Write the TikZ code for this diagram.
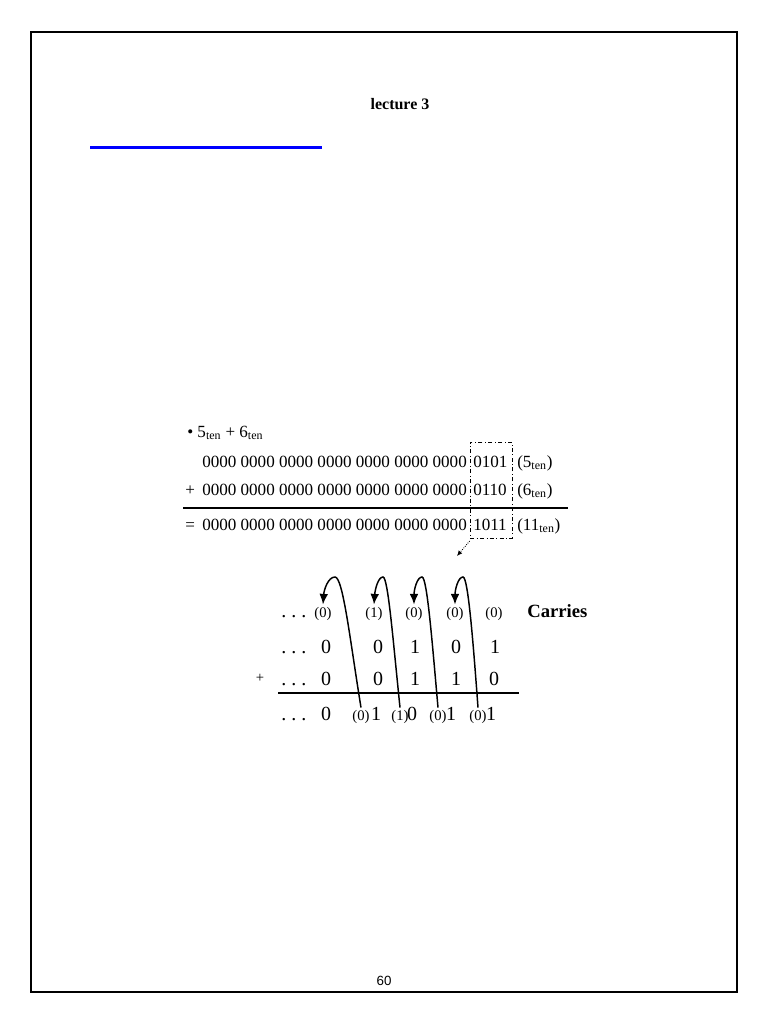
\documentclass[tikz,border=0pt]{standalone}
\usepackage{fontspec}
\setmainfont{Liberation Serif}
\newfontfamily\pagefont{Liberation Sans}
\usetikzlibrary{arrows.meta}
\tikzset{
  bits/.style={anchor=base west,inner sep=0,font=\fontsize{12.8}{15}\selectfont},
  digit/.style={anchor=base,inner sep=0,font=\fontsize{15}{18}\selectfont},
  carry/.style={anchor=base,inner sep=1.5pt,font=\fontsize{11}{13}\selectfont},
  dots/.style={anchor=base west,inner sep=0,font=\fontsize{15}{18}\selectfont},
  carryarc/.style={line width=1.1pt,-{Latex[length=8pt,width=6.5pt]}}
}
\begin{document}
\begin{tikzpicture}[x=0.75pt,y=-0.75pt]
      \useasboundingbox (0,0) rectangle (768,1024);
      \draw[line width=1.5pt] (31,32) rectangle (737,992);
      \draw
        (400,104) node[font=\bfseries\fontsize{12}{14}\selectfont] (title){lecture 3}
        (384,985) node[anchor=base,font=\pagefont\fontsize{10}{12}\selectfont] (page){60};
      \draw[blue,line width=2.25pt] (90,147) -- (322,147);
      % 5 + 6 in 32 bits
      \draw
        (187,437) node[bits] (sum){\textbullet\ 5\textsubscript{ten} + 6\textsubscript{ten}}
        (202,467) node[bits] (a){0000 0000 0000 0000 0000 0000 0000}
        (473,467) node[bits] (alow){0101}
        (185,495) node[bits] (plus){+}
        (202,495) node[bits] (b){0000 0000 0000 0000 0000 0000 0000}
        (473,495) node[bits] (blow){0110}
        (185,530) node[bits] (eq){=}
        (202,530) node[bits] (s){0000 0000 0000 0000 0000 0000 0000}
        (473,530) node[bits] (slow){1011}
        (517,467) node[bits] (la){(5\textsubscript{ten})}
        (517,495) node[bits] (lb){(6\textsubscript{ten})}
        (517,530) node[bits] (ls){(11\textsubscript{ten})};
      \draw[line width=1pt] (183,508) -- (568,508);
      \node[draw,dash dot,line width=0.6pt,inner sep=0,minimum width=31.5pt,minimum height=72pt] (box) at (491,490) {};
      \coordinate (hint) at (457,556);
      \draw[densely dotted,line width=0.6pt,-{Latex[length=4pt,width=3.5pt]}] ([yshift=-2pt]box.south west) -- (hint);
      % column by column
      \draw
        (281,617) node[dots] (d0){.\ .\ .}
        (323,617) node[carry] (c1){(0)}
        (374,617) node[carry] (c2){(1)}
        (414,617) node[carry] (c3){(0)}
        (455,617) node[carry] (c4){(0)}
        (494,617) node[carry] (c5){(0)}
        (527,617) node[anchor=base west,inner sep=0,font=\bfseries\fontsize{14}{16}\selectfont] (carries){Carries}
        (281,653) node[dots] (d1){.\ .\ .}
        (326,653) node[digit] (x1){0}
        (378,653) node[digit] (x2){0}
        (415,653) node[digit] (x3){1}
        (456,653) node[digit] (x4){0}
        (495,653) node[digit] (x5){1}
        (260,682) node[anchor=base,inner sep=0,font=\fontsize{11}{13}\selectfont] (add){+}
        (281,685) node[dots] (d2){.\ .\ .}
        (326,685) node[digit] (y1){0}
        (378,685) node[digit] (y2){0}
        (415,685) node[digit] (y3){1}
        (456,685) node[digit] (y4){1}
        (494,685) node[digit] (y5){0}
        (281,720) node[dots] (d3){.\ .\ .}
        (326,720) node[digit] (r1){0}
        (361,720) node[carry] (rc2){(0)}
        (376,720) node[digit] (r2){1}
        (400,720) node[carry] (rc3){(1)}
        (412,720) node[digit] (r3){0}
        (438,720) node[carry] (rc4){(0)}
        (451,720) node[digit] (r4){1}
        (478,720) node[carry] (rc5){(0)}
        (491,720) node[digit] (r5){1};
      \draw[line width=1.5pt] (278,693) -- (519,693);
      \begin{scope}[carryarc]
        \draw (rc2.north) .. controls (350,640) and (343,577) .. (335,577) .. controls (328,577) and (324,590) .. (c1.north);
        \draw (rc3.north) .. controls (393,640) and (388,577) .. (383,577) .. controls (378,577) and (375,590) .. (c2.north);
        \draw (rc4.north) .. controls (432,640) and (427,577) .. (422,577) .. controls (417,577) and (414,590) .. (c3.north);
        \draw (rc5.north) .. controls (473,640) and (468,577) .. (463,577) .. controls (458,577) and (455,590) .. (c4.north);
      \end{scope}
    \end{tikzpicture}
\end{document}
